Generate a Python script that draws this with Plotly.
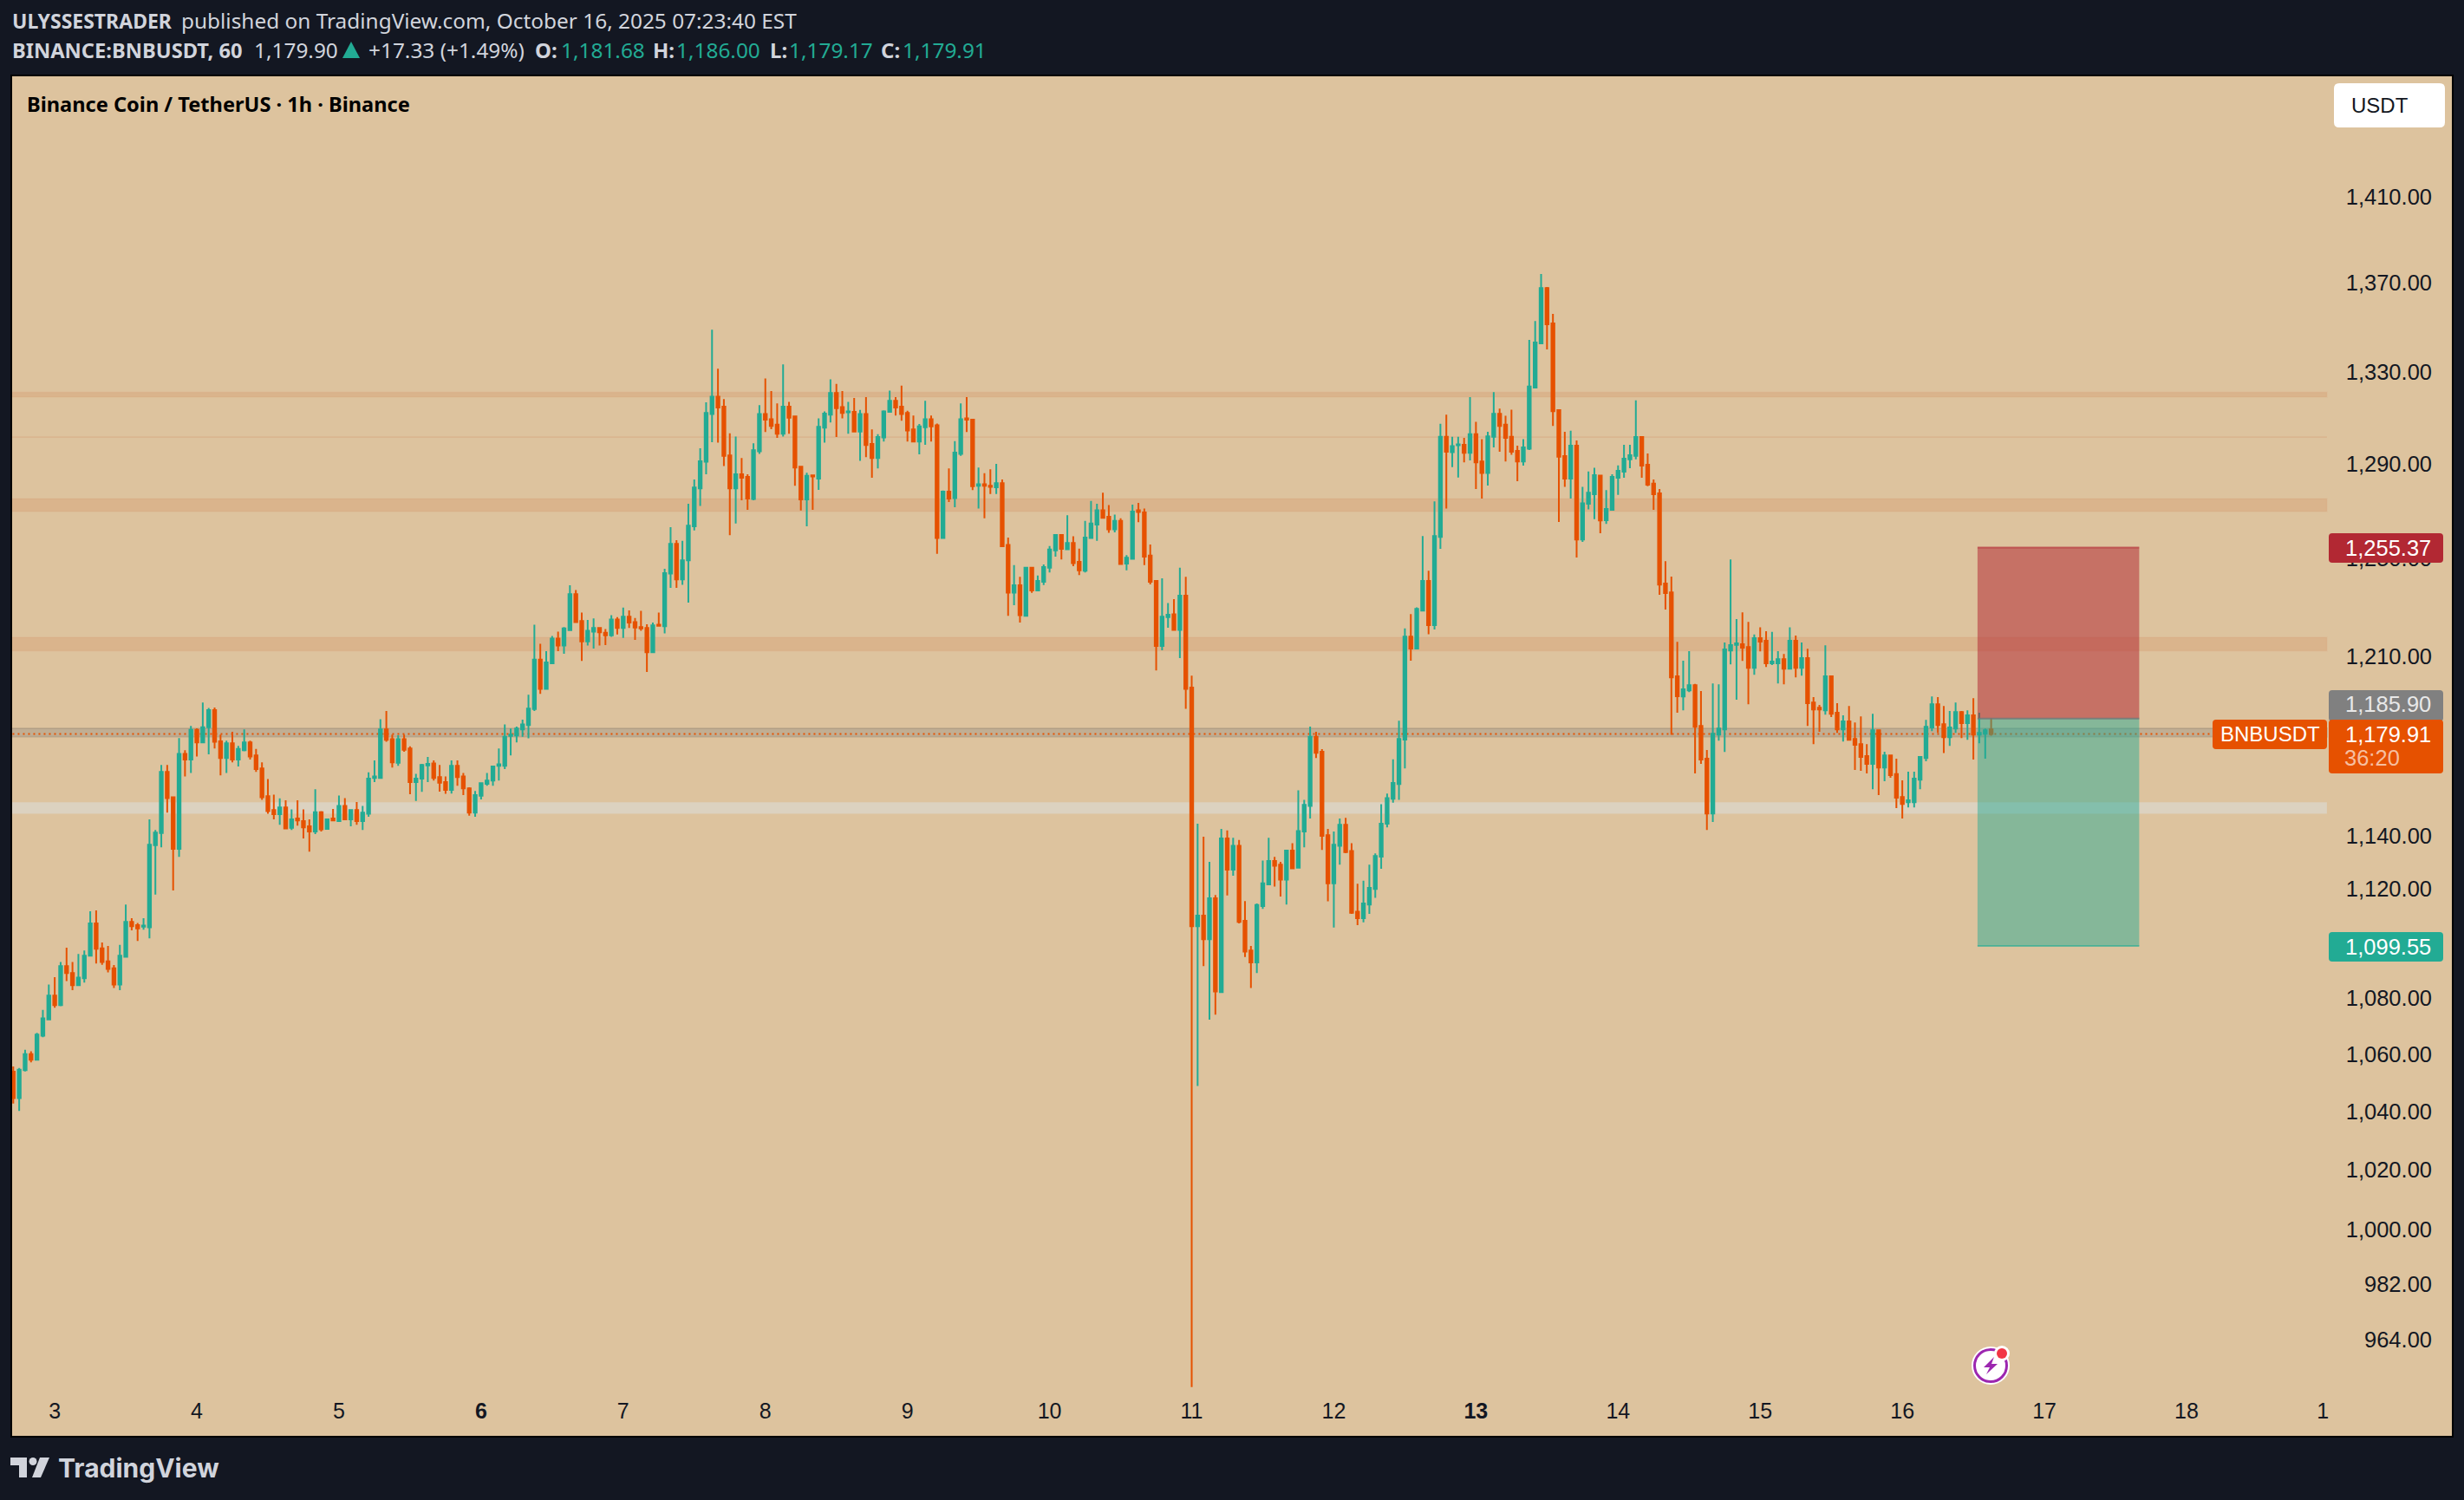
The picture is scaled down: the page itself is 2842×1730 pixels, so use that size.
"""
BNB/USDT hourly chart with a short position box, TradingView look.
"""

import math

import pandas as pd
import plotly.graph_objects as go

open_prices = [
    1054.5, 1045.3, 1055.0, 1060.7, 1058.7, 1067.2, 1073.0, 1081.5, 1078.1, 1092.2,
    1089.7, 1085.3, 1087.8, 1096.0, 1107.8, 1098.7, 1093.9, 1091.4, 1085.5, 1095.6,
    1108.4, 1107.2, 1106.6, 1106.4, 1137.0, 1141.6, 1165.1, 1155.3, 1135.6, 1172.1,
    1169.9, 1181.5, 1176.6, 1182.5, 1189.3, 1177.0, 1170.5, 1176.2, 1169.9, 1173.5,
    1176.6, 1171.5, 1166.4, 1155.7, 1150.4, 1148.8, 1151.4, 1143.6, 1147.2, 1146.2,
    1144.2, 1142.2, 1149.6, 1143.2, 1147.2, 1146.2, 1152.0, 1146.8, 1150.4, 1146.2,
    1149.0, 1162.7, 1162.7, 1181.7, 1177.8, 1168.6, 1177.8, 1174.2, 1161.1, 1162.5,
    1167.6, 1168.4, 1163.1, 1161.1, 1158.1, 1167.4, 1163.3, 1158.7, 1149.4, 1155.9,
    1160.5, 1161.7, 1167.4, 1167.4, 1179.1, 1179.3, 1181.7, 1183.4, 1189.7, 1209.4,
    1197.7, 1207.9, 1217.9, 1215.1, 1221.3, 1236.0, 1225.0, 1216.8, 1220.7, 1222.2,
    1220.3, 1219.2, 1225.7, 1222.2, 1226.8, 1224.6, 1222.6, 1222.2, 1212.4, 1223.5,
    1222.9, 1244.5, 1256.9, 1242.1, 1250.0, 1264.3, 1280.3, 1291.7, 1312.4, 1320.0,
    1315.6, 1294.4, 1280.3, 1286.3, 1285.2, 1275.8, 1296.2, 1312.4, 1310.1, 1307.7,
    1303.8, 1315.6, 1311.3, 1289.6, 1275.6, 1285.9, 1284.5, 1306.4, 1312.1, 1321.6,
    1315.4, 1313.1, 1313.3, 1304.7, 1312.4, 1299.4, 1293.3, 1302.2, 1313.3, 1318.2,
    1315.6, 1312.8, 1305.7, 1300.4, 1306.6, 1310.1, 1307.5, 1259.3, 1278.9, 1276.2,
    1295.1, 1310.5, 1309.9, 1281.4, 1282.1, 1281.4, 1280.8, 1282.5, 1256.4, 1236.7,
    1239.7, 1227.2, 1247.0, 1237.6, 1241.1, 1247.0, 1254.2, 1260.6, 1254.6, 1257.3,
    1249.4, 1245.7, 1259.3, 1265.0, 1271.0, 1268.3, 1263.0, 1266.5, 1248.7, 1250.7,
    1271.0, 1270.1, 1252.0, 1241.5, 1214.9, 1226.6, 1227.8, 1221.4, 1235.4, 1198.2,
    1106.8, 1110.7, 1102.0, 1117.1, 1082.8, 1139.6, 1127.8, 1136.8, 1108.8, 1097.9,
    1093.5, 1114.2, 1122.3, 1131.1, 1129.7, 1124.1, 1135.0, 1128.5, 1142.2, 1152.0,
    1178.8, 1172.9, 1140.8, 1122.7, 1136.8, 1144.8, 1134.8, 1112.1, 1109.7, 1114.8,
    1120.6, 1132.7, 1145.2, 1154.7, 1160.4, 1177.7, 1218.7, 1213.9, 1229.3, 1241.5,
    1223.4, 1259.8, 1302.5, 1295.8, 1298.8, 1299.0, 1295.5, 1303.6, 1291.8, 1286.9,
    1302.5, 1312.5, 1307.7, 1302.5, 1296.4, 1291.8, 1297.3, 1324.0, 1343.6, 1368.5,
    1352.5, 1314.1, 1294.1, 1284.5, 1298.6, 1258.7, 1273.8, 1277.8, 1285.8, 1266.8,
    1271.2, 1284.8, 1287.4, 1292.7, 1294.2, 1302.4, 1290.4, 1282.3, 1278.2, 1240.4,
    1236.8, 1202.7, 1194.7, 1197.1, 1199.2, 1183.0, 1170.2, 1149.1, 1179.6, 1181.7,
    1213.1, 1215.4, 1215.6, 1214.5, 1206.1, 1218.1, 1217.0, 1207.9, 1207.9, 1209.6,
    1205.8, 1217.0, 1206.1, 1210.0, 1192.3, 1190.2, 1189.2, 1202.7, 1188.2, 1181.7,
    1184.8, 1177.9, 1175.9, 1171.2, 1168.2, 1181.3, 1166.8, 1171.5, 1164.2, 1155.4,
    1153.4, 1153.4, 1162.1, 1170.5, 1182.4, 1191.6, 1183.7, 1178.6, 1182.0, 1188.5,
    1184.1, 1187.2, 1179.6, 1180.0, 1181.68,
]
high_prices = [
    1056.3, 1055.8, 1062.2, 1061.7, 1068.2, 1076.4, 1085.5, 1088.2, 1093.7, 1098.9,
    1093.7, 1096.6, 1097.9, 1112.3, 1112.6, 1100.8, 1099.5, 1092.6, 1099.9, 1114.8,
    1109.7, 1108.0, 1109.7, 1146.8, 1142.8, 1167.8, 1167.8, 1155.3, 1178.3, 1173.5,
    1183.0, 1182.1, 1192.3, 1190.1, 1190.3, 1179.6, 1177.2, 1180.7, 1175.2, 1181.7,
    1177.2, 1174.0, 1168.8, 1162.3, 1156.3, 1154.9, 1154.1, 1150.6, 1154.1, 1150.6,
    1146.8, 1158.4, 1150.0, 1147.2, 1150.8, 1156.0, 1155.0, 1150.4, 1153.5, 1152.0,
    1164.9, 1169.5, 1185.7, 1188.9, 1179.6, 1179.4, 1179.6, 1175.0, 1164.3, 1168.2,
    1170.9, 1169.5, 1167.8, 1163.3, 1169.5, 1169.5, 1164.7, 1159.1, 1157.7, 1160.7,
    1164.7, 1167.4, 1174.2, 1183.6, 1182.0, 1182.8, 1185.5, 1195.4, 1223.5, 1215.8,
    1212.8, 1219.0, 1220.7, 1222.6, 1239.7, 1237.7, 1228.5, 1225.5, 1226.1, 1222.4,
    1221.8, 1227.4, 1226.6, 1230.5, 1229.4, 1226.3, 1229.2, 1223.7, 1224.4, 1228.5,
    1246.5, 1263.9, 1258.4, 1258.2, 1273.8, 1284.1, 1297.5, 1317.5, 1349.7, 1332.3,
    1318.9, 1304.0, 1302.6, 1293.3, 1286.3, 1299.7, 1316.3, 1328.0, 1322.4, 1317.0,
    1334.2, 1317.7, 1311.7, 1289.6, 1287.0, 1285.9, 1310.5, 1313.5, 1327.6, 1325.6,
    1322.4, 1317.7, 1319.4, 1314.2, 1319.8, 1305.7, 1303.6, 1314.0, 1322.6, 1319.8,
    1324.8, 1313.8, 1311.7, 1308.0, 1318.2, 1311.7, 1308.2, 1279.4, 1288.8, 1300.6,
    1317.0, 1319.8, 1310.1, 1289.2, 1286.8, 1288.5, 1290.8, 1284.1, 1259.5, 1248.0,
    1243.2, 1247.2, 1247.2, 1243.7, 1248.3, 1256.0, 1260.6, 1260.6, 1268.9, 1260.1,
    1254.9, 1266.5, 1275.0, 1273.8, 1278.5, 1273.2, 1269.2, 1267.6, 1252.2, 1273.4,
    1274.1, 1271.8, 1256.6, 1241.5, 1242.6, 1232.4, 1234.0, 1247.0, 1243.2, 1203.0,
    1145.2, 1140.2, 1130.7, 1118.3, 1143.2, 1142.6, 1139.8, 1139.0, 1116.1, 1099.5,
    1115.2, 1131.2, 1139.8, 1132.6, 1130.7, 1135.2, 1137.8, 1158.0, 1154.3, 1182.8,
    1180.7, 1173.9, 1143.2, 1142.2, 1147.2, 1147.4, 1137.8, 1122.5, 1123.7, 1129.7,
    1133.9, 1152.6, 1156.7, 1170.0, 1185.1, 1222.0, 1227.9, 1230.6, 1260.2, 1245.7,
    1274.8, 1308.1, 1312.1, 1302.5, 1302.5, 1302.0, 1319.8, 1309.0, 1301.4, 1304.6,
    1322.0, 1314.7, 1311.6, 1314.3, 1298.6, 1301.4, 1345.1, 1353.6, 1374.9, 1369.0,
    1356.8, 1314.1, 1304.6, 1305.1, 1300.9, 1281.0, 1287.5, 1289.1, 1286.0, 1279.6,
    1286.3, 1290.1, 1299.0, 1299.0, 1318.3, 1302.4, 1295.3, 1284.1, 1280.0, 1249.7,
    1243.3, 1216.6, 1209.0, 1212.8, 1199.7, 1196.8, 1173.6, 1199.9, 1199.5, 1216.3,
    1250.4, 1225.8, 1228.6, 1224.7, 1219.6, 1222.5, 1220.9, 1220.6, 1212.8, 1211.7,
    1222.5, 1219.1, 1216.3, 1213.8, 1194.4, 1191.3, 1215.2, 1202.7, 1192.0, 1187.2,
    1190.9, 1184.4, 1186.8, 1175.9, 1187.8, 1181.7, 1172.9, 1171.5, 1170.2, 1161.8,
    1165.2, 1165.2, 1171.2, 1185.4, 1194.7, 1194.4, 1190.9, 1188.9, 1192.3, 1188.9,
    1189.2, 1194.0, 1188.2, 1182.0, 1186.00,
]
low_prices = [
    1043.4, 1040.8, 1054.6, 1057.8, 1058.7, 1066.7, 1072.8, 1077.2, 1077.7, 1086.8,
    1083.5, 1085.3, 1086.2, 1096.0, 1093.1, 1092.7, 1089.9, 1084.3, 1083.5, 1095.6,
    1105.3, 1101.4, 1105.5, 1102.3, 1118.5, 1136.2, 1149.4, 1120.0, 1132.6, 1163.3,
    1164.7, 1171.1, 1176.6, 1171.9, 1174.2, 1163.7, 1164.7, 1168.8, 1167.2, 1173.1,
    1169.9, 1165.1, 1154.3, 1149.0, 1146.8, 1144.8, 1143.4, 1142.8, 1144.4, 1139.6,
    1134.6, 1141.2, 1142.2, 1143.0, 1146.2, 1146.2, 1146.8, 1144.2, 1144.8, 1142.8,
    1147.8, 1161.1, 1162.7, 1176.8, 1166.8, 1167.4, 1172.9, 1156.5, 1153.9, 1157.4,
    1161.1, 1161.7, 1157.5, 1156.6, 1156.7, 1159.7, 1156.1, 1148.2, 1147.8, 1154.5,
    1159.7, 1159.7, 1161.7, 1166.2, 1171.5, 1176.6, 1178.8, 1178.2, 1188.9, 1195.7,
    1197.7, 1207.9, 1212.8, 1211.8, 1221.1, 1224.4, 1208.9, 1215.1, 1213.9, 1215.1,
    1215.3, 1218.6, 1219.6, 1218.2, 1222.2, 1217.4, 1221.1, 1204.5, 1212.4, 1223.1,
    1220.0, 1238.6, 1238.6, 1239.9, 1232.6, 1262.5, 1272.9, 1286.3, 1300.1, 1299.9,
    1289.9, 1260.5, 1265.4, 1275.2, 1271.2, 1275.2, 1295.1, 1304.5, 1305.8, 1302.0,
    1302.6, 1303.8, 1281.4, 1270.9, 1264.3, 1271.2, 1279.7, 1299.9, 1308.7, 1302.4,
    1310.5, 1303.8, 1304.5, 1292.1, 1293.7, 1284.8, 1288.8, 1300.4, 1313.3, 1311.7,
    1309.4, 1300.4, 1300.4, 1294.9, 1299.0, 1300.4, 1252.7, 1259.3, 1274.5, 1272.3,
    1294.2, 1304.5, 1279.6, 1271.8, 1267.6, 1277.9, 1277.9, 1255.9, 1227.2, 1231.5,
    1224.4, 1226.8, 1236.6, 1237.6, 1239.8, 1245.0, 1251.6, 1250.4, 1254.6, 1247.6,
    1243.9, 1245.0, 1259.3, 1258.2, 1267.8, 1261.5, 1261.7, 1248.5, 1245.9, 1250.5,
    1266.0, 1248.0, 1240.1, 1205.1, 1213.2, 1222.3, 1221.4, 1210.0, 1189.8, 949.5,
    1049.5, 1092.2, 1072.9, 1074.7, 1082.6, 1118.2, 1125.5, 1107.8, 1095.5, 1084.3,
    1089.7, 1113.2, 1122.1, 1121.5, 1117.8, 1114.8, 1128.3, 1128.5, 1136.2, 1147.2,
    1170.5, 1135.2, 1116.0, 1106.3, 1129.7, 1134.0, 1111.3, 1107.2, 1108.2, 1111.3,
    1117.3, 1128.1, 1143.8, 1153.2, 1154.3, 1166.4, 1209.0, 1213.9, 1228.9, 1219.7,
    1221.6, 1254.8, 1271.8, 1289.4, 1284.9, 1291.4, 1292.3, 1280.0, 1276.0, 1281.5,
    1297.9, 1296.0, 1291.8, 1294.7, 1283.4, 1290.0, 1296.8, 1324.0, 1343.6, 1340.9,
    1307.2, 1266.1, 1281.0, 1276.0, 1251.2, 1257.7, 1271.4, 1267.3, 1261.3, 1265.3,
    1271.2, 1277.5, 1284.8, 1288.9, 1292.7, 1284.8, 1281.2, 1271.2, 1235.8, 1229.7,
    1179.5, 1188.2, 1189.2, 1196.4, 1164.5, 1168.2, 1142.8, 1145.8, 1177.2, 1172.8,
    1207.5, 1193.4, 1208.9, 1191.6, 1203.3, 1212.7, 1206.5, 1207.2, 1199.9, 1199.5,
    1205.8, 1202.3, 1203.0, 1183.0, 1175.9, 1180.7, 1187.5, 1186.5, 1180.3, 1176.9,
    1177.6, 1165.8, 1165.5, 1164.5, 1158.4, 1156.1, 1161.5, 1162.8, 1151.1, 1147.2,
    1151.4, 1151.4, 1158.4, 1169.2, 1181.0, 1180.3, 1172.4, 1175.2, 1180.3, 1178.3,
    1177.6, 1169.9, 1176.2, 1170.2, 1179.17,
]
close_prices = [
    1045.3, 1055.2, 1060.7, 1058.7, 1067.6, 1073.4, 1081.5, 1078.1, 1092.2, 1089.7,
    1085.3, 1088.0, 1096.0, 1107.8, 1098.5, 1093.7, 1091.2, 1085.5, 1096.0, 1108.4,
    1106.8, 1106.0, 1107.0, 1137.2, 1141.8, 1165.1, 1155.0, 1135.6, 1172.1, 1169.9,
    1181.5, 1176.6, 1182.5, 1189.3, 1176.8, 1170.5, 1176.2, 1169.9, 1174.0, 1176.6,
    1171.1, 1166.2, 1155.3, 1150.0, 1148.8, 1151.4, 1143.4, 1146.8, 1146.4, 1143.8,
    1142.2, 1149.6, 1143.0, 1146.8, 1146.4, 1152.0, 1146.8, 1150.4, 1146.2, 1149.4,
    1162.5, 1163.3, 1181.7, 1177.6, 1168.8, 1177.8, 1173.7, 1161.1, 1162.5, 1167.8,
    1168.2, 1162.7, 1160.9, 1158.1, 1167.4, 1163.1, 1158.7, 1149.4, 1156.1, 1160.7,
    1161.7, 1167.2, 1168.0, 1178.8, 1179.6, 1182.0, 1183.6, 1189.9, 1209.4, 1197.7,
    1208.3, 1217.9, 1215.1, 1222.0, 1236.0, 1224.6, 1216.8, 1221.1, 1222.2, 1220.5,
    1219.2, 1225.7, 1222.2, 1226.8, 1224.4, 1222.4, 1222.0, 1212.4, 1223.3, 1223.1,
    1244.7, 1256.9, 1242.1, 1250.0, 1264.5, 1280.7, 1291.9, 1312.8, 1320.0, 1315.2,
    1294.2, 1280.3, 1286.3, 1284.8, 1276.0, 1296.7, 1312.4, 1309.9, 1307.2, 1303.8,
    1315.6, 1310.8, 1289.2, 1275.6, 1285.7, 1285.4, 1306.8, 1312.6, 1321.6, 1314.9,
    1312.8, 1313.5, 1304.7, 1312.4, 1298.9, 1293.3, 1302.4, 1313.5, 1318.2, 1315.2,
    1312.4, 1305.2, 1300.4, 1307.0, 1310.1, 1307.0, 1259.3, 1278.9, 1276.0, 1295.6,
    1310.1, 1309.9, 1281.2, 1282.1, 1281.4, 1281.0, 1282.5, 1255.9, 1236.7, 1239.7,
    1227.4, 1247.0, 1237.6, 1241.5, 1247.2, 1254.5, 1260.6, 1254.8, 1257.3, 1248.9,
    1245.9, 1259.5, 1265.4, 1271.0, 1267.8, 1263.0, 1266.5, 1248.5, 1251.1, 1270.5,
    1270.3, 1251.6, 1241.1, 1214.9, 1226.8, 1227.6, 1221.4, 1235.4, 1197.7, 1106.8,
    1110.7, 1102.0, 1117.1, 1083.0, 1139.6, 1127.8, 1136.8, 1108.4, 1097.5, 1093.5,
    1114.6, 1122.7, 1131.1, 1129.3, 1124.1, 1135.0, 1128.3, 1142.4, 1152.4, 1178.8,
    1172.5, 1140.6, 1122.7, 1137.2, 1144.8, 1134.4, 1111.7, 1109.7, 1115.2, 1121.0,
    1132.9, 1145.2, 1155.0, 1160.8, 1177.9, 1218.7, 1213.9, 1230.0, 1241.5, 1223.4,
    1260.2, 1302.5, 1296.0, 1298.4, 1299.2, 1295.5, 1303.6, 1291.4, 1286.9, 1302.7,
    1312.5, 1307.2, 1302.0, 1296.0, 1291.8, 1297.9, 1324.4, 1344.0, 1368.5, 1352.1,
    1313.6, 1293.9, 1284.5, 1298.6, 1258.7, 1274.0, 1278.5, 1286.0, 1266.7, 1271.6,
    1285.2, 1287.8, 1293.0, 1294.5, 1302.4, 1290.0, 1281.9, 1277.8, 1240.0, 1236.5,
    1202.3, 1194.8, 1197.5, 1199.2, 1182.7, 1169.9, 1149.1, 1180.0, 1182.0, 1213.5,
    1215.3, 1216.0, 1214.2, 1206.1, 1218.1, 1216.7, 1207.9, 1208.6, 1209.6, 1205.8,
    1217.0, 1206.1, 1210.0, 1192.0, 1189.5, 1189.5, 1202.7, 1187.8, 1181.7, 1184.8,
    1177.6, 1175.6, 1170.9, 1168.2, 1181.3, 1166.8, 1171.5, 1163.8, 1155.1, 1152.7,
    1154.1, 1162.5, 1170.9, 1182.7, 1191.6, 1183.4, 1178.6, 1182.4, 1188.5, 1184.1,
    1187.2, 1179.6, 1180.3, 1181.3, 1179.91,
]

price_ticks = [1410, 1370, 1330, 1290, 1250, 1210, 1140, 1120, 1080, 1060, 1040, 1020, 1000, 982, 964]
day_hours = [7, 31, 55, 79, 103, 127, 151, 175, 199, 223, 247, 271, 295, 319, 343, 367, 390]
day_labels = ["3", "4", "5", "<b>6</b>", "7", "8", "9", "10", "11", "12", "<b>13</b>", "14", "15", "16", "17", "18", "1"]

band_lows = [1319.8, 1302.0, 1270.5, 1212.9, 1149.0, 1178.8]
band_highs = [1322.0, 1302.7, 1276.0, 1218.4, 1153.4, 1182.1]
band_colors = [
    "rgba(210,120,70,0.2)",
    "rgba(210,120,70,0.17)",
    "rgba(210,120,70,0.2)",
    "rgba(210,120,70,0.2)",
    "rgba(220,225,225,0.5)",
    "rgba(120,120,120,0.27)",
]
band_edges = [
    "rgba(210,120,70,0.05)",
    "rgba(210,120,70,0)",
    "rgba(210,120,70,0.05)",
    "rgba(210,120,70,0.05)",
    "rgba(220,225,225,0)",
    "rgba(110,100,90,0.2)",
]

stop_price = 1255.37
entry_price = 1185.90
target_price = 1099.55
last_price = 1179.91

UP = "#22AB94"
DOWN = "#E65100"
RED = "#B22833"
GREY = "#808080"
PAGE = "#131722"
PANE = "#DDC39E"
TEXT = "#D1D4DC"
FONT = "Liberation Sans"
HEAD = "Noto Sans"

WIDTH, HEIGHT = 2842, 1730
LEFT, RIGHT, TOP, BOTTOM = 14, 2828, 88, 1656


def bar_time(index):
    return pd.Timestamp("2025-10-02 17:00") + pd.Timedelta(hours=index)


def px_x(x):
    return (x - LEFT) / (RIGHT - LEFT)


def px_y(y):
    return (BOTTOM - y) / (BOTTOM - TOP)


def rounded_box(x0, y0, x1, y1, color, r=4):
    path = (
        f"M {px_x(x0 + r)} {px_y(y0)} L {px_x(x1 - r)} {px_y(y0)} Q {px_x(x1)} {px_y(y0)} {px_x(x1)} {px_y(y0 + r)} "
        f"L {px_x(x1)} {px_y(y1 - r)} Q {px_x(x1)} {px_y(y1)} {px_x(x1 - r)} {px_y(y1)} "
        f"L {px_x(x0 + r)} {px_y(y1)} Q {px_x(x0)} {px_y(y1)} {px_x(x0)} {px_y(y1 - r)} "
        f"L {px_x(x0)} {px_y(y0 + r)} Q {px_x(x0)} {px_y(y0)} {px_x(x0 + r)} {px_y(y0)} Z"
    )
    return dict(type="path", path=path, xref="paper", yref="paper", fillcolor=color, line_width=0, layer="above")


def polygon(points, color):
    coords = [f"{px_x(x)} {px_y(y)}" for x, y in points]
    path = "M " + " L ".join(coords) + " Z"
    return dict(type="path", path=path, xref="paper", yref="paper", fillcolor=color, line_width=0, layer="above")


def disc(cx, cy, r, fill, line_color=None, line_width=0):
    return dict(
        type="circle", xref="paper", yref="paper",
        x0=px_x(cx - r), x1=px_x(cx + r), y0=px_y(cy + r), y1=px_y(cy - r),
        fillcolor=fill, line_color=line_color, line_width=line_width, layer="above",
    )


def label(x, y, text, size=25.5, color="#131722", anchor="left", font=FONT):
    return dict(
        text=text, x=px_x(x), y=px_y(y), xref="paper", yref="paper",
        xanchor=anchor, yanchor="middle", showarrow=False,
        font=dict(family=font, size=size, color=color),
    )


times = [bar_time(i) for i in range(len(close_prices))]

fig = go.Figure(
    go.Candlestick(
        x=times,
        open=open_prices,
        high=high_prices,
        low=low_prices,
        close=close_prices,
        whiskerwidth=0,
        increasing=dict(line=dict(color=UP, width=2), fillcolor=UP),
        decreasing=dict(line=dict(color=DOWN, width=2), fillcolor=DOWN),
    )
)

shapes = []
# Support and resistance zones stop short of the price scale
for low, high, color, edge in zip(band_lows, band_highs, band_colors, band_edges):
    shapes.append(
        dict(
            type="rect", xref="x", yref="y", layer="below",
            x0=str(bar_time(-1)), x1=str(bar_time(390.7)), y0=low, y1=high,
            fillcolor=color, line=dict(color=edge, width=2),
        )
    )
shapes.append(
    dict(
        type="line", xref="x", yref="y", layer="below",
        x0=str(bar_time(-1)), x1=str(bar_time(371.4)), y0=last_price, y1=last_price,
        line=dict(color=DOWN, width=2, dash="2px,4px"),
    )
)

# Short position box
box_x0, box_x1 = str(bar_time(331.7)), str(bar_time(359))
shapes.append(dict(type="rect", xref="x", yref="y", layer="above", x0=box_x0, x1=box_x1,
                   y0=entry_price, y1=stop_price, fillcolor="rgba(178,40,51,0.53)", line_width=0))
shapes.append(dict(type="rect", xref="x", yref="y", layer="above", x0=box_x0, x1=box_x1,
                   y0=target_price, y1=entry_price, fillcolor="rgba(34,171,148,0.47)", line_width=0))
for price, color in [(stop_price, "rgba(178,40,51,0.6)"), (entry_price, "rgba(110,120,120,0.8)"), (target_price, "rgba(34,171,148,0.6)")]:
    shapes.append(dict(type="line", xref="x", yref="y", layer="above", x0=box_x0, x1=box_x1,
                       y0=price, y1=price, line=dict(color=color, width=2)))

# Price scale labels
shapes.append(rounded_box(2686, 615, 2818, 649, RED))
shapes.append(rounded_box(2686, 796, 2818, 832, GREY))
shapes.append(rounded_box(2686, 830, 2818, 892, DOWN))
shapes.append(rounded_box(2552, 830, 2684, 864, DOWN))
shapes.append(rounded_box(2686, 1075, 2818, 1109, UP))
shapes.append(rounded_box(2692, 96, 2820, 147, "#FFFFFF", r=6))

# Frame around the pane
shapes.append(dict(type="rect", xref="paper", yref="paper", layer="above",
                   x0=px_x(13), x1=px_x(2829), y0=px_y(1657), y1=px_y(87),
                   fillcolor="rgba(0,0,0,0)", line=dict(color="#000000", width=2)))

# Bolt badge
shapes.append(disc(2296, 1575, 22, "#FFFFFF"))
shapes.append(disc(2296, 1575, 18.5, "#FFFFFF", "#9C27B0", 3))
shapes.append(polygon([(2300, 1565), (2288, 1577), (2295, 1577), (2291, 1585), (2304, 1573), (2297, 1573)], "#9C27B0"))
shapes.append(disc(2309, 1561, 9, "#FFFFFF"))
shapes.append(disc(2309, 1561, 6, "#F23645"))

# TradingView logo
shapes.append(polygon([(12, 1681), (31, 1681), (31, 1704), (22, 1704), (22, 1690), (12, 1690)], TEXT))
shapes.append(disc(38, 1685.5, 4.5, TEXT))
shapes.append(polygon([(46, 1681), (57, 1681), (47, 1704), (37, 1704)], TEXT))

# Up triangle in the header
shapes.append(polygon([(405, 48), (415, 67), (395, 67)], UP))

annotations = [
    label(12, 24, "<b>ULYSSESTRADER</b>", size=23, color=TEXT, font=HEAD),
    label(207, 24, "published on TradingView.com, October 16, 2025 07:23:40 EST", size=24.4, color=TEXT, font=HEAD),
    label(12, 58, "<b>BINANCE:BNBUSDT, 60</b>", size=23.7, color=TEXT, font=HEAD),
    label(291, 58, "1,179.90", size=24.4, color=TEXT, font=HEAD),
    label(423, 58, "+17.33 (+1.49%)", size=24.4, color=TEXT, font=HEAD),
    label(615, 58, "<b>O:</b>", size=24, color=TEXT, font=HEAD),
    label(645, 58, "1,181.68", size=24.4, color=UP, font=HEAD),
    label(751, 58, "<b>H:</b>", size=24, color=TEXT, font=HEAD),
    label(778, 58, "1,186.00", size=24.4, color=UP, font=HEAD),
    label(886, 58, "<b>L:</b>", size=24, color=TEXT, font=HEAD),
    label(908, 58, "1,179.17", size=24.4, color=UP, font=HEAD),
    label(1014, 58, "<b>C:</b>", size=24, color=TEXT, font=HEAD),
    label(1039, 58, "1,179.91", size=24.4, color=UP, font=HEAD),
    label(29, 120, "<b>Binance Coin / TetherUS · 1h · Binance</b>", size=23.6, color="#000000", font=HEAD),
    label(2710, 122, "USDT", size=24, color="#131722"),
    label(2806, 632, "1,255.37", color="#FFFFFF", anchor="right"),
    label(2806, 812, "1,185.90", color="#E8E8E8", anchor="right"),
    label(2806, 847, "1,179.91", color="#FFFFFF", anchor="right"),
    label(2702, 874, "36:20", color="#F6BFA0"),
    label(2618, 847, "BNBUSDT", size=24, color="#FFFFFF", anchor="center"),
    label(2806, 1092, "1,099.55", color="#FFFFFF", anchor="right"),
    label(65, 1693, "<b>TradingView</b>", size=30, color=TEXT, font="Inter"),
]

fig.update_layout(
    width=WIDTH,
    height=HEIGHT,
    margin=dict(l=LEFT, r=WIDTH - RIGHT, t=TOP, b=HEIGHT - BOTTOM, pad=0),
    paper_bgcolor=PAGE,
    plot_bgcolor=PANE,
    showlegend=False,
    shapes=shapes,
    annotations=annotations,
    font=dict(family=FONT, size=25, color="#131722"),
)
fig.update_xaxes(
    type="date",
    range=[bar_time(-0.19), bar_time(411.8)],
    rangeslider_visible=False,
    tickmode="array",
    tickvals=[bar_time(h) for h in day_hours],
    ticktext=day_labels,
    ticklabelposition="inside",
    ticklabelstandoff=12,
    ticklen=0,
    tickfont=dict(family=FONT, size=25, color="#131722"),
    showgrid=False,
    zeroline=False,
    showline=False,
)
fig.update_yaxes(
    type="log",
    side="right",
    range=[math.log10(934.2), math.log10(1468.4)],
    tickmode="array",
    tickvals=price_ticks,
    ticktext=[f"{p:,.2f}" for p in price_ticks],
    ticklabelposition="inside",
    ticklabelstandoff=20,
    ticklabelshift=-2,
    ticklen=0,
    tickfont=dict(family=FONT, size=25.5, color="#131722"),
    showgrid=False,
    zeroline=False,
    showline=False,
)

fig.write_html(
    "out.html",
    config={"displayModeBar": False},
    post_script="document.body.style.margin='0';document.body.style.overflow='hidden';document.body.style.background='#131722';",
)
